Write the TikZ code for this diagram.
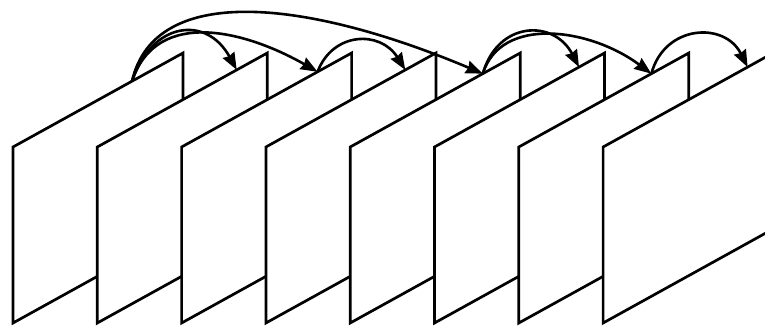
\documentclass[tikz,border=0pt]{standalone}
\usepackage{tikz}
\usetikzlibrary{arrows.meta}

\begin{document}
\begin{tikzpicture}[x=1pt,y=1pt,>={Stealth[length=17pt,width=13pt,inset=1.5pt]},
  frm/.style={fill=white,line width=2.7pt,line join=miter},
  pred/.style={->,line width=2.6pt}]
  \useasboundingbox (0,0) rectangle (765,326);
  \clip (0,0) rectangle (765,326);
  \newcommand{\frameshape}{
    \draw[frm] (0,0) -- (0,176) -- (170,270) -- (170,94) -- cycle;
  }

  % frames, back to front
  \foreach \i/\f in {1/0.70,2/0.82,3/0.80,4/0.82,5/0.78,6/0.85,7/0.78,8/0.85} {
    \begin{scope}[shift={({13+84.3*(\i-1)},3)}]
      \frameshape
      \coordinate (r\i) at ({170*\f},{176+94*\f});
    \end{scope}
  }

  % references
  \draw[pred] (r1) .. controls +(20,60) and +(-30,55) .. (r2);
  \draw[pred] (r1) .. controls +(25,75) and +(-70,40) .. (r3);
  \draw[pred] (r1) .. controls +(23,100) and +(-173,73) .. (r5);
  \draw[pred] (r3) .. controls +(15,40) and +(-25,40) .. (r4);
  \draw[pred] (r5) .. controls +(15,53) and +(-25,48) .. (r6);
  \draw[pred] (r5) .. controls +(18,58) and +(-62,46) .. (r7);
  \draw[pred] (r7) .. controls +(13,49) and +(-23,46) .. (r8);
\end{tikzpicture}
\end{document}
